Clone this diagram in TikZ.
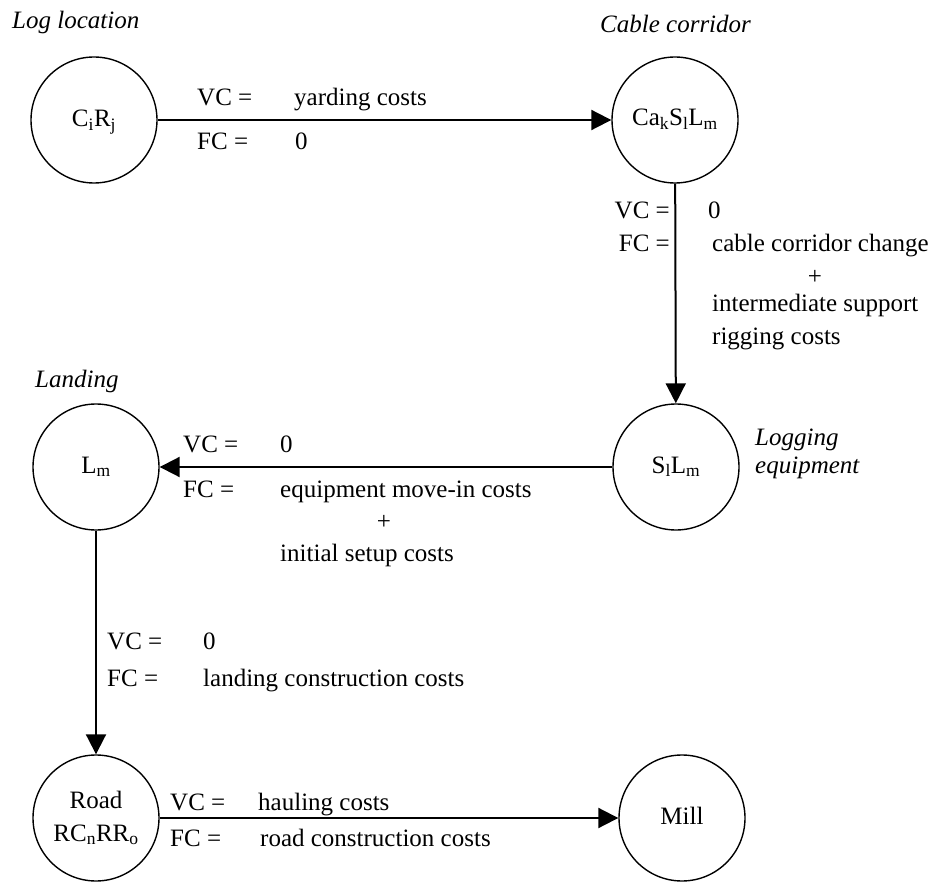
\documentclass[tikz,border=0pt]{standalone}
\usepackage{fontspec}
\setmainfont{Liberation Serif}
\usetikzlibrary{arrows.meta}
\begin{document}
\begin{tikzpicture}[x=1pt,y=-1pt,
  font=\fontsize{25}{30}\selectfont,
  state/.style={circle,draw,line width=1.4pt,minimum size=126pt,inner sep=0pt,align=center},
  arr/.style={line width=2pt,-{Triangle[length=20pt,width=20pt]}},
  lbl/.style={anchor=base west,inner sep=0pt},
  lble/.style={anchor=base east,inner sep=0pt},
  captxt/.style={anchor=base west,inner sep=0pt,font=\fontsize{25}{30}\selectfont\itshape,align=left}]
\useasboundingbox (0,0) rectangle (945,882);
% nodes
\node[state] (cr) at (94,120) {};
\node[lbl,anchor=base] (crt) at (94,127) {C\textsubscript{i}R\textsubscript{j}};
\node[state] (cc) at (675,120) {};
\node[lbl,anchor=base] (cct) at (675,126) {Ca\textsubscript{k}S\textsubscript{l}L\textsubscript{m}};
\node[state] (sl) at (676,467) {};
\node[lbl,anchor=base] (slt) at (676,473) {S\textsubscript{l}L\textsubscript{m}};
\node[state] (lm) at (96,467) {};
\node[lbl,anchor=base] (lmt) at (96,473) {L\textsubscript{m}};
\node[state] (rd) at (96,818) {};
\node[lbl,anchor=base] (rdt1) at (96,808) {Road};
\node[lbl,anchor=base] (rdt2) at (96,841) {RC\textsubscript{n}RR\textsubscript{o}};
\node[state] (ml) at (682,818) {};
\node[lbl,anchor=base] (mlt) at (682,824) {Mill};
% captions
\node[captxt] (c1) at (12,29) {Log location};
\node[captxt] (c2) at (600,33) {Cable corridor};
\node[captxt] (c3) at (35,388) {Landing};
\node[captxt] (c4) at (755,445) {Logging};
\node[captxt] (c5) at (755,473) {equipment};
% connectors
\draw[arr] (cr) -- (cc);
\draw[arr] (cc) -- (sl);
\draw[arr] (sl) -- (lm);
\draw[arr] (lm) -- (rd);
\draw[arr] (rd) -- (ml);
% edge 1
\node[lbl] (e1a) at (197,106) {VC =};
\node[lbl] (e1b) at (294,106) {yarding costs};
\node[lbl] (e1c) at (197,150) {FC =};
\node[lbl] (e1d) at (295,150) {0};
% edge 2
\node[lble] (e2a) at (670,219) {VC =};
\node[lbl] (e2b) at (708,219) {0};
\node[lble] (e2c) at (670,252) {FC =};
\node[lbl] (e2d) at (712,252) {cable corridor change};
\node[lbl,anchor=center] (e2e) at (815,277) {+};
\node[lbl] (e2f) at (712,312) {intermediate support};
\node[lbl] (e2g) at (712,345) {rigging costs};
% edge 3
\node[lbl] (e3a) at (183,452) {VC =};
\node[lbl] (e3b) at (280,452) {0};
\node[lbl] (e3c) at (183,497) {FC =};
\node[lbl] (e3d) at (280,497) {equipment move-in costs};
\node[lbl,anchor=center] (e3e) at (384,522) {+};
\node[lbl] (e3f) at (280,561) {initial setup costs};
% edge 4
\node[lbl] (e4a) at (107,649) {VC =};
\node[lbl] (e4b) at (203,649) {0};
\node[lbl] (e4c) at (107,686) {FC =};
\node[lbl] (e4d) at (203,686) {landing construction costs};
% edge 5
\node[lbl] (e5a) at (170,810) {VC =};
\node[lbl] (e5b) at (258,810) {hauling costs};
\node[lbl] (e5c) at (170,846) {FC =};
\node[lbl] (e5d) at (260,846) {road construction costs};
\end{tikzpicture}
\end{document}
